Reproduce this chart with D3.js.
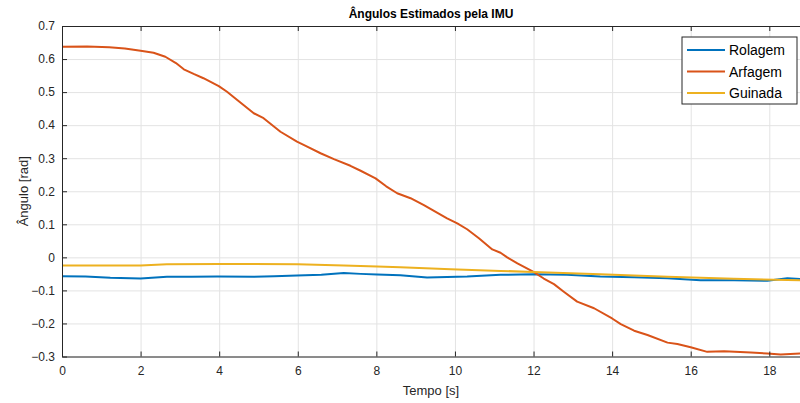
<!DOCTYPE html>
<html lang="pt">
<head>
<meta charset="UTF-8">
<title>Ângulos Estimados pela IMU</title>
<script src="https://d3js.org/d3.v7.min.js"></script>
<style>
    body { margin: 0; padding: 0; background: #fff; font-family: 'Liberation Sans', Arial, sans-serif; }
    .tick text { font-size: 12px; fill: #262626; font-family: 'Liberation Sans', Arial, sans-serif; }
    .grid line { stroke: #e3e3e3; stroke-width: 1; }
    .grid path { display: none; }
</style>
</head>
<body>
<div id="chart"></div>
<script>
    // Arfagem (pitch)
    const arfT = [0, 0.64, 1.2, 1.6, 2.0, 2.33, 2.63, 2.9, 3.1, 3.35, 3.6, 3.99, 4.2, 4.46, 4.88, 5.13, 5.56, 5.98, 6.24, 6.58, 6.92, 7.34, 7.6, 7.98, 8.25, 8.53, 8.87, 9.21, 9.8, 10.06, 10.31, 10.61, 10.95, 11.16, 11.33, 11.59, 12.0, 12.26, 12.52, 12.77, 13.11, 13.54, 14.0, 14.22, 14.56, 14.9, 15.41, 15.66, 16.0, 16.42, 16.85, 17.53, 17.95, 18.29, 18.8];
    const arfV = [0.637, 0.638, 0.636, 0.632, 0.625, 0.619, 0.607, 0.588, 0.569, 0.555, 0.542, 0.518, 0.501, 0.476, 0.436, 0.421, 0.380, 0.350, 0.335, 0.315, 0.297, 0.277, 0.262, 0.239, 0.215, 0.194, 0.179, 0.158, 0.118, 0.103, 0.085, 0.058, 0.024, 0.014, 0.0, -0.018, -0.044, -0.064, -0.081, -0.104, -0.134, -0.154, -0.185, -0.202, -0.222, -0.235, -0.258, -0.262, -0.272, -0.286, -0.284, -0.288, -0.291, -0.294, -0.291];

    // Rolagem (roll)
    const rolT = [0, 0.6, 1.23, 2.0, 2.67, 3.3, 3.95, 4.88, 5.4, 5.98, 6.6, 7.17, 7.6, 8.02, 8.61, 9.29, 10.31, 11.16, 12.0, 12.85, 13.7, 14.56, 15.41, 16.25, 17.1, 17.95, 18.46, 18.8];
    const rolV = [-0.057, -0.058, -0.062, -0.064, -0.059, -0.059, -0.058, -0.059, -0.057, -0.055, -0.053, -0.047, -0.050, -0.052, -0.054, -0.061, -0.058, -0.053, -0.051, -0.053, -0.058, -0.060, -0.063, -0.069, -0.069, -0.071, -0.063, -0.066];

    // Guinada (yaw)
    const guiT = [0, 2.0, 2.67, 4.0, 6.0, 7.17, 8.02, 8.61, 9.89, 11.16, 12.0, 13.7, 15.41, 17.1, 18.8];
    const guiV = [-0.025, -0.025, -0.021, -0.020, -0.021, -0.025, -0.028, -0.030, -0.036, -0.041, -0.044, -0.051, -0.059, -0.065, -0.069];

    const seriesNames = ["Rolagem", "Arfagem", "Guinada"];
    const seriesColors = ["#0072BD", "#D95319", "#EDB120"];
    const xTicks = [0, 2, 4, 6, 8, 10, 12, 14, 16, 18];
    const yTicks = [-0.3, -0.2, -0.1, 0, 0.1, 0.2, 0.3, 0.4, 0.5, 0.6, 0.7];

    const series = [
        { name: seriesNames[0], color: seriesColors[0], pts: rolT.map((t, i) => [t, rolV[i]]) },
        { name: seriesNames[1], color: seriesColors[1], pts: arfT.map((t, i) => [t, arfV[i]]) },
        { name: seriesNames[2], color: seriesColors[2], pts: guiT.map((t, i) => [t, guiV[i]]) }
    ];

    const W = 800, H = 403;
    const margin = { top: 26, right: 0, bottom: 46.5, left: 62 };
    const width = W - margin.left - margin.right,
          height = H - margin.top - margin.bottom;

    const svg = d3.select("#chart").append("svg")
        .attr("width", W).attr("height", H);

    const x = d3.scaleLinear().domain([0, 18 * width / 707.3]).range([0, width]);
    const y = d3.scaleLinear().domain([-0.3, 0.7]).range([height, 0]);

    svg.append("defs").append("clipPath").attr("id", "clip")
        .append("rect").attr("width", width).attr("height", height);

    const g = svg.append("g").attr("transform", `translate(${margin.left},${margin.top})`);

    // grid
    g.append("g").attr("class", "grid")
        .call(d3.axisBottom(x).tickValues(xTicks).tickSize(height).tickFormat(""));
    g.append("g").attr("class", "grid")
        .call(d3.axisLeft(y).tickValues(yTicks).tickSize(-width).tickFormat(""));

    // lines
    const line = d3.line().x(d => x(d[0])).y(d => y(d[1])).curve(d3.curveLinear);
    const plot = g.append("g").attr("clip-path", "url(#clip)");
    series.forEach(s => {
        plot.append("path").datum(s.pts)
            .attr("fill", "none")
            .attr("stroke", s.color)
            .attr("stroke-width", 2)
            .attr("stroke-linejoin", "round")
            .attr("d", line);
    });

    // axes (MATLAB-like inner ticks)
    const fmtY = d => d === 0 ? "0" : d3.format(".1f")(d);
    const xAxis = g.append("g").attr("transform", `translate(0,${height})`)
        .call(d3.axisBottom(x).tickValues(xTicks).tickSizeInner(-5).tickSizeOuter(0).tickPadding(10));
    const xTop = g.append("g")
        .call(d3.axisTop(x).tickValues(xTicks).tickSizeInner(-5).tickSizeOuter(0).tickFormat(""));
    const yAxis = g.append("g")
        .call(d3.axisLeft(y).tickValues(yTicks).tickSizeInner(-5).tickSizeOuter(0).tickPadding(7).tickFormat(fmtY));
    [xAxis, xTop, yAxis].forEach(a => {
        a.select(".domain").attr("stroke", "#262626").attr("stroke-width", 1);
        a.selectAll(".tick line").attr("stroke", "#262626");
    });

    // title and labels
    svg.append("text")
        .attr("x", margin.left + width / 2).attr("y", 18)
        .attr("text-anchor", "middle")
        .style("font-size", "12px").style("font-weight", "bold").style("fill", "#000")
        .text("Ângulos Estimados pela IMU");
    svg.append("text")
        .attr("x", margin.left + width / 2).attr("y", 395)
        .attr("text-anchor", "middle")
        .style("font-size", "13px").style("fill", "#262626")
        .text("Tempo [s]");
    svg.append("text")
        .attr("transform", `translate(28,${margin.top + height / 2}) rotate(-90)`)
        .attr("text-anchor", "middle")
        .style("font-size", "13px").style("fill", "#262626")
        .text("Ângulo [rad]");

    // legend
    const legend = svg.append("g").attr("transform", "translate(682,37)");
    legend.append("rect").attr("width", 115).attr("height", 67)
        .attr("fill", "#fff").attr("stroke", "#262626").attr("stroke-width", 1);
    series.forEach((s, i) => {
        const ly = 13 + i * 21.5;
        legend.append("line").attr("x1", 5).attr("x2", 43).attr("y1", ly).attr("y2", ly)
            .attr("stroke", s.color).attr("stroke-width", 2);
        legend.append("text").attr("x", 47).attr("y", ly + 5)
            .style("font-size", "14px").style("fill", "#000")
            .text(s.name);
    });
</script>
</body>
</html>
